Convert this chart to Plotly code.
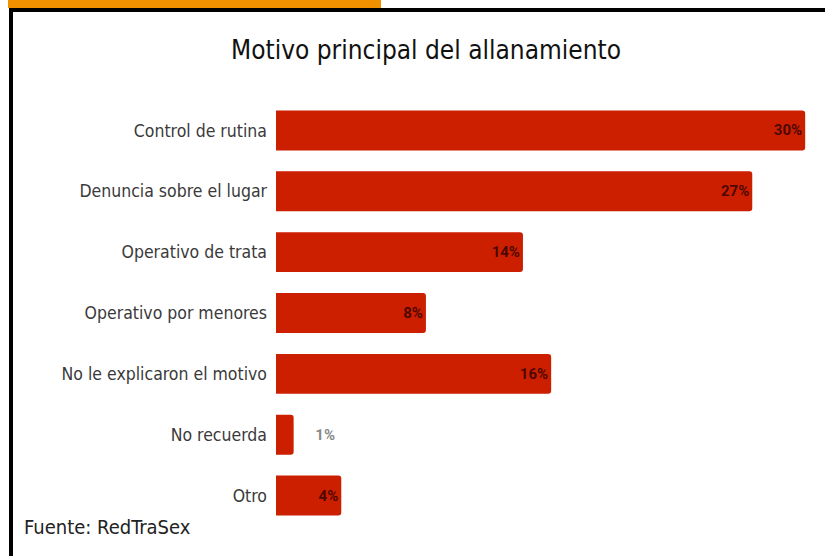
import plotly.graph_objects as go

categories = ["Control de rutina", "Denuncia sobre el lugar", "Operativo de trata",
              "Operativo por menores", "No le explicaron el motivo", "No recuerda", "Otro"]
values = [30, 27, 14, 8.5, 15.6, 1, 3.7]
label_pos = ["inside", "inside", "inside", "inside", "inside", "outside", "inside"]

W, H = 825, 556
ML, MR, MT, MB = 276, 11, 100, 30
PW = W - ML - MR
PH = H - MT - MB

def px_x(p):
    return (p - ML) / PW

def px_y(p):
    return 1 - (p - MT) / PH

texts = [("     " if pos == "outside" else "") + f"{round(v + 0.01):d}%" for v, pos in zip(values, label_pos)]
texts[3] = "8%"
text_colors = ["#8a8a8a" if pos == "outside" else "rgba(30,0,0,0.75)" for pos in label_pos]

fig = go.Figure(go.Bar(
    x=values, y=categories, orientation="h",
    marker=dict(color="#CC1F00", cornerradius=3, line=dict(width=0)),
    text=texts, textposition=label_pos, insidetextanchor="end",
    textfont=dict(family="Roboto", size=15, color=text_colors, weight="bold"),
    cliponaxis=False, hoverinfo="skip",
))

font_main = "DejaVu Sans Condensed, Liberation Sans Narrow, Arial Narrow, sans-serif"

fig.update_layout(
    width=W, height=H,
    margin=dict(l=ML, r=MR, t=MT, b=MB),
    paper_bgcolor="white", plot_bgcolor="white",
    showlegend=False, bargap=0.344,
    xaxis=dict(range=[0, 30.5], visible=False, fixedrange=True),
    yaxis=dict(autorange="reversed", showgrid=False, showline=False, zeroline=False,
               ticks="", ticklabelstandoff=8, fixedrange=True,
               tickfont=dict(family=font_main, size=17.5, color="#3a3a3a")),
    title=dict(text="Motivo principal del allanamiento", x=(426) / W, xanchor="center",
               y=1 - 50 / H, yanchor="middle",
               font=dict(family=font_main, size=26, color="#111111")),
    shapes=[
        dict(type="rect", xref="paper", yref="paper", x0=px_x(8), x1=px_x(381),
             y0=px_y(0), y1=px_y(8), fillcolor="#F29100", line=dict(width=0), layer="above"),
        dict(type="rect", xref="paper", yref="paper", x0=px_x(9), x1=px_x(826),
             y0=px_y(8), y1=px_y(12), fillcolor="#000000", line=dict(width=0), layer="above"),
        dict(type="rect", xref="paper", yref="paper", x0=px_x(9), x1=px_x(13),
             y0=px_y(8), y1=px_y(557), fillcolor="#000000", line=dict(width=0), layer="above"),
    ],
    annotations=[
        dict(text="Fuente: RedTraSex", xref="paper", yref="paper", x=px_x(22), y=px_y(527),
             xanchor="left", yanchor="middle", showarrow=False,
             font=dict(family=font_main, size=20, color="#222222")),
    ],
)

fig.write_html("out.html", config={"displayModeBar": False},
               post_script="document.body.style.margin='0';document.body.style.padding='0';")
